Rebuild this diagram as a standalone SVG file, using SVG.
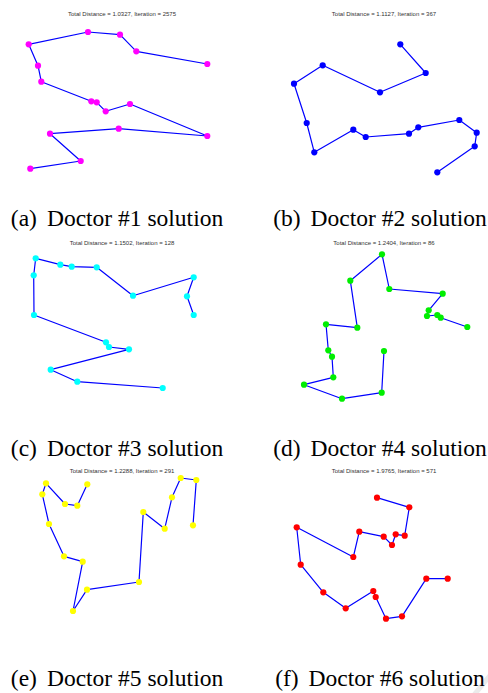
<svg xmlns="http://www.w3.org/2000/svg" width="488" height="693" viewBox="0 0 488 693">
<style>
.title{font-family:"Liberation Sans",Arial,sans-serif;font-size:6px;fill:#333;text-anchor:middle}
.cap{font-family:"Liberation Serif","Times New Roman",serif;font-size:23.5px;fill:#000;text-anchor:middle}
.route{fill:none;stroke:#0000ff;stroke-width:1.2;stroke-linejoin:round}
.m circle{fill:#ff00ff}
.b circle{fill:#0000ff}
.c circle{fill:#00ffff}
.g circle{fill:#00ee00}
.y circle{fill:#ffff00}
.r circle{fill:#ff0000}
</style>
<rect width="488" height="693" fill="#fff"/>
<line x1="474" y1="695" x2="492" y2="673" stroke="#ebebeb" stroke-width="5"/>

<g id="panel-a">
<text class="title" x="122" y="16">Total Distance = 1.0327, Iteration = 2575</text>
<g id="connectors-a"><polyline class="route" points="207.3,64 136.3,51.3 120,34.7 88,32 28.7,44.3 38,65.7 41.3,81.7 91.3,101.3 96.7,102.3 105.7,111.3 130,104 207.3,136 118.7,128.7 50,133.7 80.7,161 30.3,168.7"/></g>
<g id="cities-a" class="m">
<circle cx="207.3" cy="64" r="3.1"/><circle cx="136.3" cy="51.3" r="3.1"/><circle cx="120" cy="34.7" r="3.1"/><circle cx="88" cy="32" r="3.1"/><circle cx="28.7" cy="44.3" r="3.1"/><circle cx="38" cy="65.7" r="3.1"/><circle cx="41.3" cy="81.7" r="3.1"/><circle cx="91.3" cy="101.3" r="3.1"/><circle cx="96.7" cy="102.3" r="3.1"/><circle cx="105.7" cy="111.3" r="3.1"/><circle cx="130" cy="104" r="3.1"/><circle cx="207.3" cy="136" r="3.1"/><circle cx="118.7" cy="128.7" r="3.1"/><circle cx="50" cy="133.7" r="3.1"/><circle cx="80.7" cy="161" r="3.1"/><circle cx="30.3" cy="168.7" r="3.1"/>
</g>
<text class="cap" x="117" y="226">(a)<tspan dx="10">Doctor #1 solution</tspan></text>
</g>

<g id="panel-b">
<text class="title" x="384" y="16">Total Distance = 1.1127, Iteration = 367</text>
<g id="connectors-b"><polyline class="route" points="400.3,44.3 425.7,73 380,92.3 322.7,65.3 294,83.7 306.7,123 314.3,152.3 353.3,129.7 365.7,137 409,133.7 418.3,127.3 459.3,120 476.7,132.7 474.7,146.3 437.3,172.3"/></g>
<g id="cities-b" class="b">
<circle cx="400.3" cy="44.3" r="3.1"/><circle cx="425.7" cy="73" r="3.1"/><circle cx="380" cy="92.3" r="3.1"/><circle cx="322.7" cy="65.3" r="3.1"/><circle cx="294" cy="83.7" r="3.1"/><circle cx="306.7" cy="123" r="3.1"/><circle cx="314.3" cy="152.3" r="3.1"/><circle cx="353.3" cy="129.7" r="3.1"/><circle cx="365.7" cy="137" r="3.1"/><circle cx="409" cy="133.7" r="3.1"/><circle cx="418.3" cy="127.3" r="3.1"/><circle cx="459.3" cy="120" r="3.1"/><circle cx="476.7" cy="132.7" r="3.1"/><circle cx="474.7" cy="146.3" r="3.1"/><circle cx="437.3" cy="172.3" r="3.1"/>
</g>
<text class="cap" x="380" y="226">(b)<tspan dx="10">Doctor #2 solution</tspan></text>
</g>

<g id="panel-c">
<text class="title" x="122" y="245">Total Distance = 1.1502, Iteration = 128</text>
<g id="connectors-c"><polyline class="route" points="193.7,315 187,296.3 193.7,277.3 133,295.7 96.7,267.3 71.7,266.7 60.3,264.7 35.7,258.3 33.7,275.3 34,315 106,342.3 109,347 129,349.3 50.7,369.7 77.3,381.7 162.7,388"/></g>
<g id="cities-c" class="c">
<circle cx="193.7" cy="315" r="3.1"/><circle cx="187" cy="296.3" r="3.1"/><circle cx="193.7" cy="277.3" r="3.1"/><circle cx="133" cy="295.7" r="3.1"/><circle cx="96.7" cy="267.3" r="3.1"/><circle cx="71.7" cy="266.7" r="3.1"/><circle cx="60.3" cy="264.7" r="3.1"/><circle cx="35.7" cy="258.3" r="3.1"/><circle cx="33.7" cy="275.3" r="3.1"/><circle cx="34" cy="315" r="3.1"/><circle cx="106" cy="342.3" r="3.1"/><circle cx="109" cy="347" r="3.1"/><circle cx="129" cy="349.3" r="3.1"/><circle cx="50.7" cy="369.7" r="3.1"/><circle cx="77.3" cy="381.7" r="3.1"/><circle cx="162.7" cy="388" r="3.1"/>
</g>
<text class="cap" x="117" y="456">(c)<tspan dx="10">Doctor #3 solution</tspan></text>
</g>

<g id="panel-d">
<text class="title" x="384" y="245">Total Distance = 1.2404, Iteration = 86</text>
<g id="connectors-d"><polyline class="route" points="467.3,327 440.7,317.7 437.3,315 427,316 428.7,310.3 442.7,293.7 389.3,289 382,254.3 350.3,280.7 357.3,327.7 326,324.3 328.3,350.3 332,356.7 333.3,377.3 304,384.7 342,398.7 381.7,392.7 384,351"/></g>
<g id="cities-d" class="g">
<circle cx="467.3" cy="327" r="3.1"/><circle cx="440.7" cy="317.7" r="3.1"/><circle cx="437.3" cy="315" r="3.1"/><circle cx="427" cy="316" r="3.1"/><circle cx="428.7" cy="310.3" r="3.1"/><circle cx="442.7" cy="293.7" r="3.1"/><circle cx="389.3" cy="289" r="3.1"/><circle cx="382" cy="254.3" r="3.1"/><circle cx="350.3" cy="280.7" r="3.1"/><circle cx="357.3" cy="327.7" r="3.1"/><circle cx="326" cy="324.3" r="3.1"/><circle cx="328.3" cy="350.3" r="3.1"/><circle cx="332" cy="356.7" r="3.1"/><circle cx="333.3" cy="377.3" r="3.1"/><circle cx="304" cy="384.7" r="3.1"/><circle cx="342" cy="398.7" r="3.1"/><circle cx="381.7" cy="392.7" r="3.1"/><circle cx="384" cy="351" r="3.1"/>
</g>
<text class="cap" x="380" y="456">(d)<tspan dx="10">Doctor #4 solution</tspan></text>
</g>

<g id="panel-e">
<text class="title" x="122" y="473">Total Distance = 1.2288, Iteration = 291</text>
<g id="connectors-e"><polyline class="route" points="87.3,484.3 77.3,505.7 65,504 46,483.3 42.3,494.3 49,524 64,556.3 82.7,561.7 73,611 87,589.7 139,582 143.3,512 164.7,528.7 172,497.3 180.7,478 196.3,480 193,525.3"/></g>
<g id="cities-e" class="y">
<circle cx="87.3" cy="484.3" r="3.1"/><circle cx="77.3" cy="505.7" r="3.1"/><circle cx="65" cy="504" r="3.1"/><circle cx="46" cy="483.3" r="3.1"/><circle cx="42.3" cy="494.3" r="3.1"/><circle cx="49" cy="524" r="3.1"/><circle cx="64" cy="556.3" r="3.1"/><circle cx="82.7" cy="561.7" r="3.1"/><circle cx="73" cy="611" r="3.1"/><circle cx="87" cy="589.7" r="3.1"/><circle cx="139" cy="582" r="3.1"/><circle cx="143.3" cy="512" r="3.1"/><circle cx="164.7" cy="528.7" r="3.1"/><circle cx="172" cy="497.3" r="3.1"/><circle cx="180.7" cy="478" r="3.1"/><circle cx="196.3" cy="480" r="3.1"/><circle cx="193" cy="525.3" r="3.1"/>
</g>
<text class="cap" x="117" y="686">(e)<tspan dx="10">Doctor #5 solution</tspan></text>
</g>

<g id="panel-f">
<text class="title" x="384" y="473">Total Distance = 1.9765, Iteration = 571</text>
<g id="connectors-f"><polyline class="route" points="377,497.7 409.3,507.3 404.7,535.7 395.7,534.3 392,545 383.7,536.7 359.3,531.7 353.3,557 296.7,527.3 300.7,564.7 323.3,592.3 345.7,608.3 373.3,591 375.7,597 386,618.7 402,616.3 426.3,578.7 447.7,578.7"/></g>
<g id="cities-f" class="r">
<circle cx="377" cy="497.7" r="3.1"/><circle cx="409.3" cy="507.3" r="3.1"/><circle cx="404.7" cy="535.7" r="3.1"/><circle cx="395.7" cy="534.3" r="3.1"/><circle cx="392" cy="545" r="3.1"/><circle cx="383.7" cy="536.7" r="3.1"/><circle cx="359.3" cy="531.7" r="3.1"/><circle cx="353.3" cy="557" r="3.1"/><circle cx="296.7" cy="527.3" r="3.1"/><circle cx="300.7" cy="564.7" r="3.1"/><circle cx="323.3" cy="592.3" r="3.1"/><circle cx="345.7" cy="608.3" r="3.1"/><circle cx="373.3" cy="591" r="3.1"/><circle cx="375.7" cy="597" r="3.1"/><circle cx="386" cy="618.7" r="3.1"/><circle cx="402" cy="616.3" r="3.1"/><circle cx="426.3" cy="578.7" r="3.1"/><circle cx="447.7" cy="578.7" r="3.1"/>
</g>
<text class="cap" x="380" y="686">(f)<tspan dx="10">Doctor #6 solution</tspan></text>
</g>
</svg>
